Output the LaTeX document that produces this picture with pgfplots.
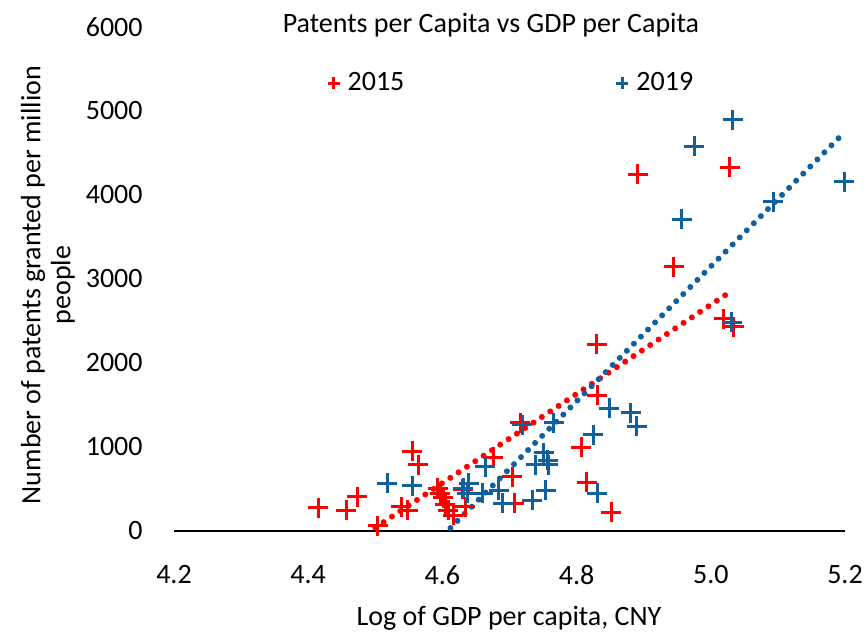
\documentclass[border=0pt]{standalone}
\usepackage{pgfplots}
\pgfplotsset{compat=1.18}
\usepackage{fontspec}
\setmainfont{Carlito}
\definecolor{xred}{RGB}{255,0,0}
\definecolor{xblue}{RGB}{16,96,158}

\begin{document}
\begin{tikzpicture}[font=\fontsize{14}{15}\selectfont]
\path[use as bounding box] (-87pt,-51pt) rectangle (346pt,265.5pt);
\begin{axis}[
    scale only axis,
    width=335.5pt, height=252pt,
    xmin=4.2, xmax=5.2, ymin=0, ymax=6000,
    xtick={4.2,4.4,4.6,4.8,5.0,5.2}, ytick={0,1000,...,6000},
    /pgf/number format/assume math mode=true,
    /pgf/number format/1000 sep={},
    axis x line*=bottom, axis y line*=left,
    x axis line style={-, line width=1pt, black},
    y axis line style={draw=none},
    major tick length=0pt,
    xticklabel style={anchor=north, inner sep=0pt, yshift=-17pt,
        /pgf/number format/fixed, /pgf/number format/fixed zerofill,
        /pgf/number format/precision=1},
    yticklabel style={anchor=east, inner sep=0pt, xshift=-15.5pt},
    xlabel={Log of GDP per capita, CNY},
    ylabel={Number of patents granted per million\\people},
    every axis x label/.style={at={(axis description cs:0.4993,-0.1726)}, anchor=center},
    every axis y label/.style={at={(axis description cs:-0.1878,0.488)}, rotate=90, anchor=center, align=center},
    title={Patents per Capita vs GDP per Capita},
    every axis title/.style={at={(axis description cs:0.4724,1.004)}, anchor=center},
    clip=false,
    legend columns=2,
    legend image code/.code={\draw[#1, mark size=3pt] plot coordinates {(0pt,0pt)};},
    legend style={draw=none, fill=none, at={(axis cs:4.4284,5333)}, anchor=west,
        inner sep=0pt, nodes={inner sep=0pt},
        /tikz/every odd column/.append style={column sep=4pt},
        /tikz/every even column/.append style={column sep=106pt}},
]
% 2015
\addplot[only marks, mark=+, mark size=5pt, xred, line width=1.5pt] coordinates {
(4.415,274) (4.457,250) (4.473,405) (4.504,60) (4.555,952) (4.564,786)
(4.539,286) (4.548,250) (4.593,512) (4.597,452) (4.601,393) (4.604,310)
(4.609,250) (4.616,190) (4.634,286) (4.630,500) (4.676,881) (4.704,643)
(4.707,333) (4.716,1286) (4.807,1000) (4.815,583) (4.830,2226) (4.831,1619)
(4.852,226) (4.891,4250) (4.945,3143) (5.019,2524) (5.034,2429) (5.028,4333)
};
% 2019
\addplot[only marks, mark=+, mark size=5pt, xblue, line width=1.5pt] coordinates {
(4.518,571) (4.555,536) (4.631,512) (4.637,452) (4.639,571) (4.660,452)
(4.664,762) (4.684,488) (4.690,333) (4.719,1262) (4.766,1286) (4.739,786)
(4.751,929) (4.757,845) (4.758,786) (4.734,369) (4.754,488) (4.825,1143)
(4.849,1464) (4.881,1405) (4.890,1250) (4.831,452) (5.033,4893) (4.975,4583)
(4.957,3714) (5.093,3917) (5.199,4155) (5.031,2488)
};
\legend{2015,2019}
% linear trendlines
\addplot[forget plot, xred, line width=3pt, line cap=round, dash pattern=on 0pt off 5pt]
    coordinates {(4.50,40) (5.022,2810)};
\addplot[forget plot, xblue, line width=3pt, line cap=round, dash pattern=on 0pt off 5pt]
    coordinates {(4.612,36) (5.195,4714)};
\end{axis}
\end{tikzpicture}
\end{document}
